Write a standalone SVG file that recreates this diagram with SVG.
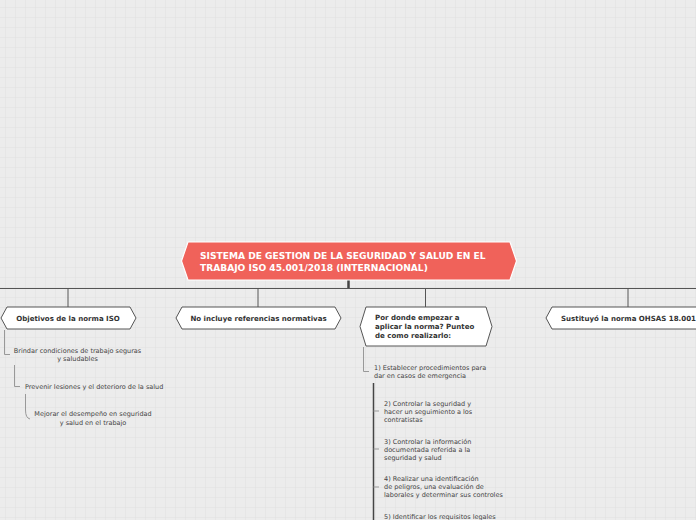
<svg xmlns="http://www.w3.org/2000/svg" width="696" height="520" viewBox="0 0 696 520">
<defs>
<pattern id="grid" x="5" y="7" width="10" height="10" patternUnits="userSpaceOnUse">
<rect width="10" height="10" fill="#ececec"/>
<path d="M0 0H10M0 0V10" stroke="#e0e0e0" stroke-width="1" fill="none"/>
</pattern>
<style>
.t{font-family:"DejaVu Sans",Verdana,sans-serif;}
.title{font-size:9.1px;font-weight:bold;fill:#ffffff;}
.nt{font-size:7.05px;font-weight:bold;fill:#333333;}
.st{font-size:6.5px;fill:#444444;}
.node{fill:#ffffff;stroke:#555555;stroke-width:1;}
.c{stroke:#555555;stroke-width:1;fill:none;}
.cs{stroke:#999999;stroke-width:1;fill:none;}
</style>
</defs>
<rect width="696" height="520" fill="url(#grid)"/>
<g id="connectors">
<path class="c" d="M0 288.5H696"/>
<path d="M348.5 280V288" stroke="#444" stroke-width="2.5"/>
<path class="c" d="M68 288V307M258 288V307M425.5 288V307M628 288V307"/>
<path class="cs" d="M4.5 330V354.5H10"/>
<path class="cs" d="M14.5 365V386.5H20"/>
<path class="cs" d="M25.5 394V410Q25.5 418 30 419"/>
<path class="cs" d="M363.5 347V371.5H369"/>
<path d="M373.5 383V520" stroke="#444" stroke-width="1.5"/>
<path class="cs" d="M373.5 411H379M373.5 449H379M373.5 487H379"/>
</g>
<g id="main">
<path d="M188 242H510L516.5 261L510 280H188L181.5 261Z" fill="#f0625a" stroke="#ffffff" stroke-width="1.2"/>
<text class="t title" x="200" y="259">SISTEMA DE GESTION DE LA SEGURIDAD Y SALUD EN EL</text>
<text class="t title" x="200" y="270.5">TRABAJO ISO 45.001/2018 (INTERNACIONAL)</text>
</g>
<g id="n-objetivos">
<path class="node" d="M7 307H130L136 318L130 329H7L1 318Z"/>
<text class="t nt" x="68" y="320.5" text-anchor="middle">Objetivos de la norma ISO</text>
</g>
<g id="n-referencias">
<path class="node" d="M182 307H335L341 318L335 329H182L176 318Z"/>
<text class="t nt" x="258.5" y="320.5" text-anchor="middle">No incluye referencias normativas</text>
</g>
<g id="n-empezar">
<path class="node" d="M366 307H486L492 326.5L486 346H366L360 326.5Z"/>
<text class="t nt" x="375" y="320">Por donde empezar a</text>
<text class="t nt" x="375" y="329">aplicar la norma? Punteo</text>
<text class="t nt" x="375" y="338">de como realizarlo:</text>
</g>
<g id="n-ohsas">
<path class="node" d="M552 307H702L708 318L702 329H552L546 318Z"/>
<text class="t nt" x="561" y="320.5">Sustituyó la norma OHSAS 18.001</text>
</g>
<g id="s-brindar">
<text class="t st" x="77.5" y="353" text-anchor="middle">Brindar condiciones de trabajo seguras</text>
<text class="t st" x="77.5" y="361" text-anchor="middle">y saludables</text>
</g>
<g id="s-prevenir">
<text class="t st" x="25" y="388.5">Prevenir lesiones y el deterioro de la salud</text>
</g>
<g id="s-mejorar">
<text class="t st" x="93" y="416" text-anchor="middle">Mejorar el desempeño en seguridad</text>
<text class="t st" x="93" y="424.5" text-anchor="middle">y salud en el trabajo</text>
</g>
<g id="s-1">
<text class="t st" x="374" y="370">1) Establecer procedimientos para</text>
<text class="t st" x="374" y="378">dar en casos de emergencia</text>
</g>
<g id="s-2">
<text class="t st" x="384" y="406">2) Controlar la seguridad y</text>
<text class="t st" x="384" y="414">hacer un seguimiento a los</text>
<text class="t st" x="384" y="422">contratistas</text>
</g>
<g id="s-3">
<text class="t st" x="384" y="444">3) Controlar la información</text>
<text class="t st" x="384" y="452">documentada referida a la</text>
<text class="t st" x="384" y="460">seguridad y salud</text>
</g>
<g id="s-4">
<text class="t st" x="384" y="481">4) Realizar una identificación</text>
<text class="t st" x="384" y="489">de peligros, una evaluación de</text>
<text class="t st" x="384" y="497">laborales y determinar sus controles</text>
</g>
<g id="s-5">
<text class="t st" x="384" y="519">5) Identificar los requisitos legales</text>
</g>
</svg>
